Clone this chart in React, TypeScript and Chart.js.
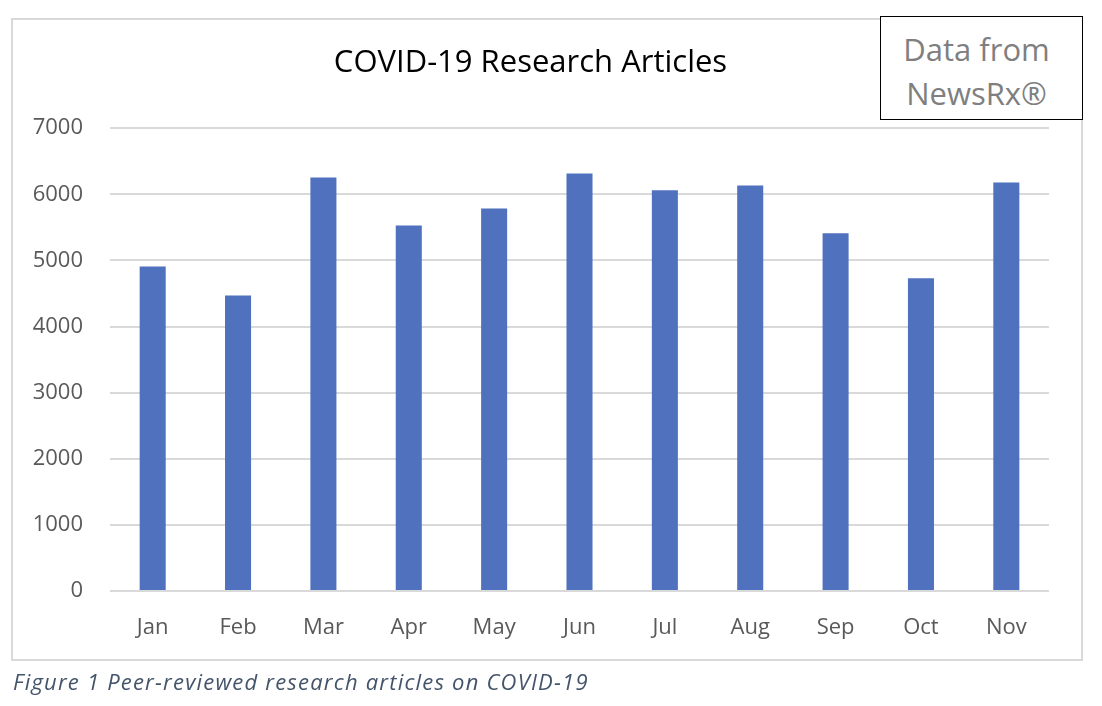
import React, { useEffect, useRef } from "react";
import { Chart, registerables } from "chart.js";

Chart.register(...registerables);

const months = ["Jan", "Feb", "Mar", "Apr", "May", "Jun", "Jul", "Aug", "Sep", "Oct", "Nov"];
const articles = [4910, 4470, 6255, 5530, 5785, 6315, 6060, 6135, 5410, 4730, 6180];
const yMin = 0;
const yMax = 7000;
const yStep = 1000;
const chartTitle = "COVID-19 Research Articles";
const sourceLines = ["Data from", "NewsRx®"];
const caption = "Figure 1 Peer-reviewed research articles on COVID-19";

const FONT = "'Open Sans', 'DejaVu Sans', sans-serif";

export default function App() {
  const canvasRef = useRef<HTMLCanvasElement | null>(null);

  useEffect(() => {
    document.body.style.margin = "0";
    document.body.style.background = "#ffffff";
    const canvas = canvasRef.current;
    if (!canvas) return;
    const chart = new Chart(canvas, {
      type: "bar",
      data: {
        labels: months,
        datasets: [
          {
            label: "Articles",
            data: articles,
            backgroundColor: "#4f71be",
            borderWidth: 0,
            barPercentage: 1,
            categoryPercentage: 0.305,
          },
        ],
      },
      options: {
        responsive: false,
        animation: false,
        devicePixelRatio: 1,
        layout: { padding: { left: 12, right: 53, top: 45, bottom: 0 } },
        plugins: {
          legend: { display: false },
          tooltip: { enabled: false },
          title: {
            display: true,
            text: chartTitle,
            color: "#000000",
            font: { family: FONT, size: 31, weight: "normal", lineHeight: 1.2 },
            padding: { top: 0, bottom: 46 },
          },
        },
        scales: {
          x: {
            grid: { display: false },
            border: { display: false },
            ticks: {
              color: "#595959",
              font: { family: FONT, size: 22 },
              padding: 16,
              maxRotation: 0,
            },
            afterFit: (s: any) => {
              s.height = 115;
            },
          },
          y: {
            min: yMin,
            max: yMax,
            grid: { color: "#d9d9d9", lineWidth: 2, drawTicks: false },
            border: { display: false },
            ticks: {
              stepSize: yStep,
              color: "#595959",
              font: { family: FONT, size: 22 },
              padding: 27,
              callback: (v: any) => String(v),
            },
            afterFit: (s: any) => {
              s.width = 98;
            },
          },
        },
      },
    });
    return () => chart.destroy();
  }, []);

  return (
    <div style={{ position: "fixed", left: 0, top: 0, width: 1102, height: 706, background: "#fff" }}>
      <div
        style={{
          position: "absolute",
          left: 11,
          top: 18,
          width: 1072,
          height: 643,
          border: "2px solid #d9d9d9",
          boxSizing: "border-box",
        }}
      />
      <canvas
        ref={canvasRef}
        width={1102}
        height={706}
        style={{ position: "absolute", left: 0, top: 0, width: 1102, height: 706 }}
      />
      <div
        style={{
          position: "absolute",
          left: 880,
          top: 16,
          width: 203,
          height: 104,
          border: "1px solid #000",
          boxSizing: "border-box",
          background: "#fff",
        }}
      >
        <div
          style={{
            position: "absolute",
            left: 0,
            right: 10,
            top: 10,
            textAlign: "center",
            fontFamily: FONT,
            fontSize: 31,
            lineHeight: "44px",
            color: "#7f7f7f",
          }}
        >
          {sourceLines.map((l) => (
            <div key={l}>{l}</div>
          ))}
        </div>
      </div>
      <div
        style={{
          position: "absolute",
          left: 13,
          top: 669,
          fontFamily: FONT,
          fontStyle: "italic",
          fontSize: 22,
          letterSpacing: "1.2px",
          lineHeight: "24px",
          color: "#44546a",
          whiteSpace: "nowrap",
        }}
      >
        {caption}
      </div>
    </div>
  );
}
